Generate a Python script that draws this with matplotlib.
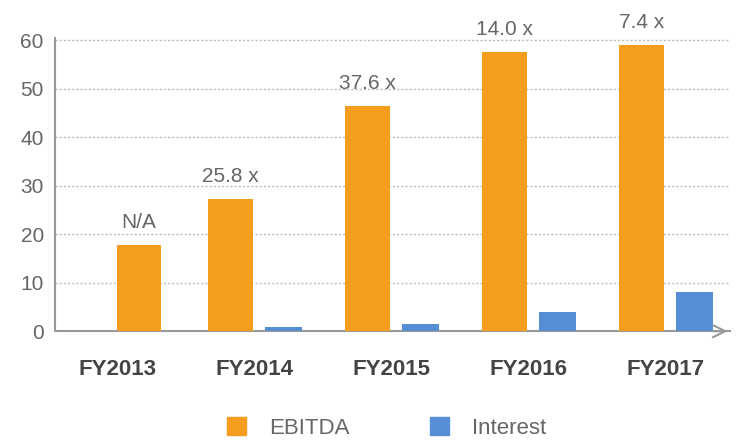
import numpy as np
import matplotlib.pyplot as plt
from matplotlib.patches import Patch

years = ["FY2013", "FY2014", "FY2015", "FY2016", "FY2017"]
ebitda = [17.7, 27.2, 46.4, 57.5, 59.0]
interest = [0.0, 0.9, 1.4, 4.0, 8.0]
coverage = ["N/A", "25.8 x", "37.6 x", "14.0 x", "7.4 x"]

orange = "#F59D1E"
blue = "#568ED5"
gray = "#666666"

plt.rcParams["font.family"] = ["Liberation Sans", "DejaVu Sans"]

fig = plt.figure(figsize=(7.38, 4.41), dpi=100)
ax = fig.add_axes([0.0745, 0.249, 0.915, 0.665])

x = np.arange(len(years))
# FY2013 has no interest bar, so its EBITDA bar sits off to the right in the original
ebitda_x = x - 0.178
ebitda_x[0] = x[0] + 0.156
ax.bar(ebitda_x, ebitda, width=0.326, color=orange, zorder=3)
ax.bar(x + 0.207, interest, width=0.27, color=blue, zorder=3)

for i, t in enumerate(coverage):
    ax.text(ebitda_x[i], ebitda[i] + 2.7, t, ha="center", va="bottom",
            fontsize=15, color=gray)

ax.set_xlim(-0.457, 4.47)
ax.set_ylim(0, 60.5)
ax.set_yticks(range(0, 61, 10))
ax.set_xticks(x)
ax.set_xticklabels(years, fontsize=16, fontweight="bold", color="#444444")
ax.tick_params(axis="y", labelsize=15, labelcolor=gray, length=0, pad=8)
ax.tick_params(axis="x", length=0, pad=20)

ax.yaxis.grid(True, linestyle=(0, (1.5, 1.5)), color="#bbbbbb", linewidth=1, zorder=0)
ax.set_axisbelow(True)
for s in ["top", "right"]:
    ax.spines[s].set_visible(False)
ax.spines["left"].set_color("#999999")
ax.spines["bottom"].set_color("#999999")
ax.spines["left"].set_linewidth(1.5)
ax.spines["bottom"].set_linewidth(1.5)
ax.annotate("", xy=(1.0, 0), xycoords="axes fraction", xytext=(0.97, 0),
            arrowprops=dict(arrowstyle="->", color="#999999", lw=1.5,
                            mutation_scale=22))

handles = [Patch(color=orange, label="EBITDA"), Patch(color=blue, label="Interest")]
leg = fig.legend(handles=handles, loc="center", bbox_to_anchor=(0.524, 0.03), ncol=2,
                 frameon=False, fontsize=16, handlelength=0.85, handleheight=0.85,
                 handletextpad=1.05, columnspacing=3.6)
for t in leg.get_texts():
    t.set_color(gray)

fig.savefig("out.png", dpi=100)
